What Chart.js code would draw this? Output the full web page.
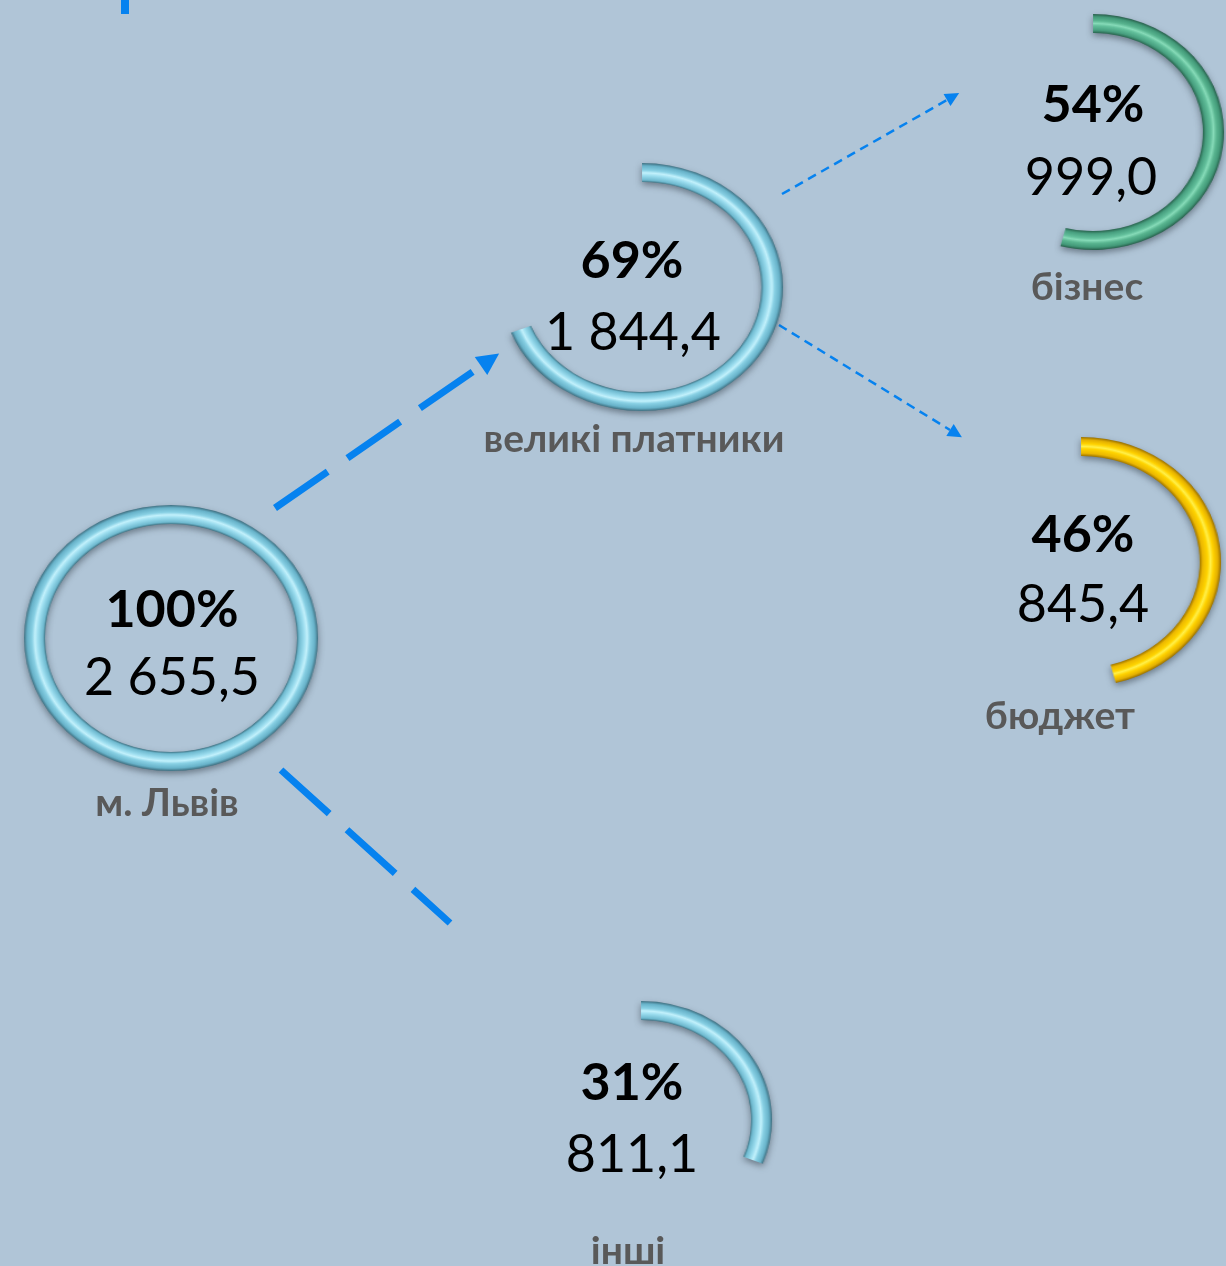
<!DOCTYPE html>
<html><head><meta charset="utf-8">
<script src="https://cdn.jsdelivr.net/npm/chart.js@4.4.1/dist/chart.umd.min.js"></script>
<style>
html,body{margin:0;padding:0;background:#b0c5d7;}
#stage{position:relative;width:1226px;height:1266px;overflow:hidden;background:#b0c5d7;font-family:Lato,'Open Sans',sans-serif;}
.ring{position:absolute;transform-origin:50% 50%;}
.txt{position:absolute;white-space:nowrap;line-height:1.2;transform:translateX(-50%);}
</style></head><body>
<div id="stage"><canvas id="flow" width="1226" height="1266" style="position:absolute;left:0;top:0;width:1226px;height:1266px"></canvas></div>
<script>
// ---------- DATA ----------
const nodeLabels  = ['м. Львів', 'великі платники', 'бізнес', 'бюджет', 'інші'];
const nodeShares  = [100, 69, 54, 46, 31];
const nodeAmounts = [2655.5, 1844.4, 999.0, 845.4, 811.1];

// ---------- LAYOUT ----------
const nodeCenters = [[171,638],[642,287],[1093,132],[1081,562],[641,1120]];
const nodeRadii   = [[147,133],[141,124],[131,118],[140,125],[131,119]]; // rx, ry (outer)
const ringThickness = 19;
const pctPos   = [[172,627],[632,278],[1093,122],[1083,552],[632,1100]];   // x centre, baseline
const amtPos   = [[172,695],[633,350],[1091,195],[1083,622],[632,1172]];
const labelPos = [[167,816],[634,452],[1087,300],[1060,729],[628,1264]];

// ---------- STYLES ----------
const blueTube   = [[0,'#437889'],[0.1,'#6fbad0'],[0.33,'#9adcee'],[0.48,'#c2f1fc'],[0.62,'#88d0e4'],[0.85,'#67b2c9'],[1,'#3f6f80']];
const greenTube  = [[0,'#2a6650'],[0.15,'#479f7f'],[0.38,'#62bf9b'],[0.5,'#86dbb8'],[0.65,'#59b590'],[0.85,'#439a79'],[1,'#285e4b']];
const yellowTube = [[0,'#a07600'],[0.15,'#ecb800'],[0.38,'#ffd400'],[0.5,'#fff04a'],[0.65,'#ffd200'],[0.85,'#e4b000'],[1,'#976f00']];
const ringStyles = [blueTube, blueTube, greenTube, yellowTube, blueTube];
const arrowColor = '#0682ef';
const arrows = [
  {from:[275,508], to:[481,366], width:7,   dash:[64,24], head:[22,22]},
  {from:[281,770], to:[450,923], width:7,   dash:[65,24], head:null},
  {from:[782,194], to:[947,100], width:2.5, dash:[9,6],   head:[14,14]},
  {from:[779,325], to:[950,430], width:2.5, dash:[9,6],   head:[14,14]},
  {from:[125,0],   to:[125,14],  width:8,   dash:[],      head:null}
];

const stage = document.getElementById('stage');

function tubeGradient(chart, stops) {
  const a = chart.chartArea;
  if (!a) return stops[3][1];
  const cx = (a.left + a.right) / 2, cy = (a.top + a.bottom) / 2;
  const outer = Math.min(a.right - a.left, a.bottom - a.top) / 2;
  const inner = outer - ringThickness;
  const g = chart.ctx.createRadialGradient(cx, cy, inner, cx, cy, outer);
  stops.forEach(([o, c]) => g.addColorStop(o, c));
  return g;
}

const shadowPlugin = {
  id: 'ringShadow',
  beforeDatasetsDraw(chart) {
    const ctx = chart.ctx; ctx.save();
    ctx.shadowColor = 'rgba(40,50,60,0.5)'; ctx.shadowBlur = 6; ctx.shadowOffsetY = 3;
  },
  afterDatasetsDraw(chart) { chart.ctx.restore(); }
};

// ---------- RINGS (one doughnut per node) ----------
nodeShares.forEach((share, i) => {
  const [cx, cy] = nodeCenters[i], [rx, ry] = nodeRadii[i];
  const pad = 12, S = 2 * (ry + pad);
  const cv = document.createElement('canvas');
  cv.width = S; cv.height = S; cv.className = 'ring';
  cv.style.left = (cx - S / 2) + 'px'; cv.style.top = (cy - S / 2) + 'px';
  cv.style.width = S + 'px'; cv.style.height = S + 'px';
  cv.style.transform = `scaleX(${rx / ry})`;
  stage.appendChild(cv);
  new Chart(cv, {
    type: 'doughnut',
    data: {
      labels: [nodeLabels[i], ''],
      datasets: [{
        data: [share, 100 - share],
        backgroundColor: c => c.dataIndex === 0 ? tubeGradient(c.chart, ringStyles[i]) : 'rgba(0,0,0,0)',
        borderWidth: 0, hoverOffset: 0, offset: 0, spacing: 0
      }]
    },
    options: {
      responsive: false, animation: false, events: [],
      rotation: 0, circumference: 360,
      cutout: ry - ringThickness,
      layout: { padding: pad },
      plugins: { legend: { display: false }, tooltip: { enabled: false } }
    },
    plugins: [shadowPlugin]
  });
});

// ---------- CONNECTORS ----------
const arrowHeadPlugin = {
  id: 'arrowHeads',
  afterDatasetsDraw(chart) {
    const ctx = chart.ctx;
    chart.data.datasets.forEach((ds, i) => {
      if (!ds.head) return;
      const pts = chart.getDatasetMeta(i).data;
      const p0 = pts[pts.length - 2], p1 = pts[pts.length - 1];
      const dx = p1.x - p0.x, dy = p1.y - p0.y, L = Math.hypot(dx, dy);
      const ux = dx / L, uy = dy / L, [hl, hw] = ds.head;
      ctx.save();
      ctx.beginPath();
      ctx.moveTo(p1.x + ux * hl, p1.y + uy * hl);
      ctx.lineTo(p1.x - uy * hw / 2, p1.y + ux * hw / 2);
      ctx.lineTo(p1.x + uy * hw / 2, p1.y - ux * hw / 2);
      ctx.closePath();
      ctx.fillStyle = ds.borderColor; ctx.fill();
      ctx.restore();
    });
  }
};

new Chart(document.getElementById('flow'), {
  type: 'scatter',
  data: {
    datasets: arrows.map(a => ({
      data: [{x: a.from[0], y: a.from[1]}, {x: a.to[0], y: a.to[1]}],
      showLine: true, pointRadius: 0, borderColor: arrowColor, borderWidth: a.width,
      borderDash: a.dash, borderCapStyle: 'butt', head: a.head, clip: false
    }))
  },
  options: {
    responsive: false, animation: false, events: [],
    layout: { padding: 0 },
    scales: {
      x: { type: 'linear', min: 0, max: 1226, display: false },
      y: { type: 'linear', min: 0, max: 1266, reverse: true, display: false }
    },
    plugins: { legend: { display: false }, tooltip: { enabled: false } }
  },
  plugins: [arrowHeadPlugin]
});

// ---------- TEXT ----------
function fmtAmount(v) {
  const [ip, dp] = v.toFixed(1).split('.');
  return ip.replace(/\B(?=(\d{3})+(?!\d))/g, '\u00a0') + ',' + dp;
}
function addText(str, x, baseline, size, weight, color) {
  const d = document.createElement('div');
  d.className = 'txt'; d.textContent = str;
  d.style.left = x + 'px'; d.style.top = (baseline - 0.987 * size) + 'px';
  d.style.fontSize = size + 'px'; d.style.fontWeight = weight; d.style.color = color;
  stage.appendChild(d);
}
nodeShares.forEach((share, i) => {
  addText(share + '%', pctPos[i][0], pctPos[i][1], 52, 700, '#000');
  addText(fmtAmount(nodeAmounts[i]), amtPos[i][0], amtPos[i][1], 52, 400, '#000');
  addText(nodeLabels[i], labelPos[i][0], labelPos[i][1], 39, 700, '#595959');
});
</script>
</body></html>
